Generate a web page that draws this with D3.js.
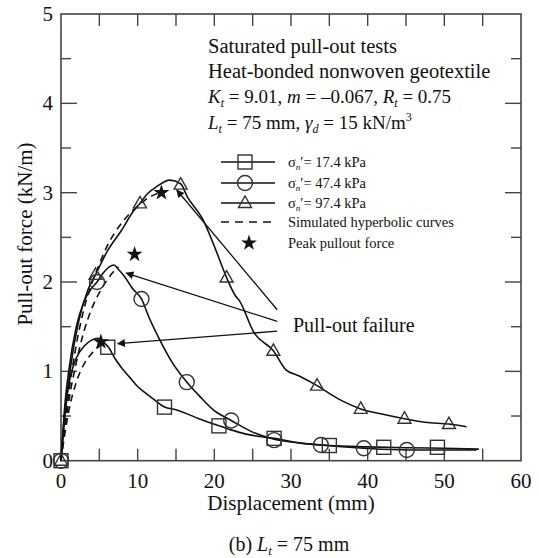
<!DOCTYPE html>
<html>
<head>
<meta charset="utf-8">
<style>
  body { margin: 0; padding: 0; background: #fff; overflow: hidden; }
  svg text { font-family: "Liberation Serif", "Times New Roman", serif; fill: #111; }
</style>
</head>
<body>
<div id="chart"></div>
<script src="https://cdn.jsdelivr.net/npm/d3@7"></script>
<script>
// ---- data (displacement mm, force kN/m) ----
var curve17 = [[0,0],[0.5,0.55],[1,0.85],[1.5,1.03],[2,1.15],[3,1.28],[4,1.35],[4.8,1.37],[5.5,1.33],[6.2,1.27],[7,1.15],
  [8,1.03],[9,0.93],[10,0.83],[11,0.76],[12.2,0.68],[13.5,0.6],[15,0.57],[16,0.54],[18,0.47],[20.6,0.39],[22,0.35],[24,0.3],
  [26,0.27],[27.8,0.25],[31,0.2],[35,0.17],[40,0.155],[45,0.145],[50,0.14],[54.5,0.13]];
var curve47 = [[0,0],[0.5,0.62],[1,1.0],[2,1.5],[3,1.78],[4,1.93],[4.7,2.0],[5.5,2.1],[6.3,2.17],[6.9,2.19],[7.5,2.14],
  [8.3,2.06],[9.3,1.93],[10.5,1.81],[11.5,1.6],[12.9,1.35],[14.5,1.1],[16.4,0.88],[18.1,0.72],[20,0.56],[22.2,0.45],
  [25,0.32],[27.8,0.24],[31,0.2],[33.9,0.175],[39.5,0.14],[45.1,0.12],[50,0.12],[54.2,0.12]];
var curve97 = [[0,0],[0.5,0.49],[1.2,1.02],[2.25,1.54],[3.5,1.91],[4.5,2.08],[6,2.34],[7.9,2.58],[9.5,2.8],[10.3,2.88],
  [11.3,2.99],[12.5,3.07],[14.2,3.14],[15.6,3.1],[16.5,2.95],[18.5,2.7],[20,2.4],[21.6,2.05],[22.8,1.84],[23.2,1.8],
  [25.2,1.43],[27.7,1.23],[29.3,1.02],[31,0.95],[33.4,0.84],[36,0.7],[39.1,0.58],[42,0.52],[44.8,0.47],[47.5,0.43],
  [50.6,0.41],[52.9,0.38]];

var marks17 = [[0,0],[6.1,1.27],[13.5,0.6],[20.6,0.39],[27.8,0.25],[35,0.17],[42.1,0.15],[49.1,0.15]];
var marks47 = [[0,0],[4.7,2.0],[10.5,1.81],[16.4,0.88],[22.2,0.45],[27.8,0.23],[33.9,0.175],[39.5,0.14],[45.1,0.12]];
var marks97 = [[0,0],[4.5,2.08],[10.3,2.88],[15.6,3.09],[21.6,2.05],[27.7,1.23],[33.4,0.84],[39.1,0.58],[44.8,0.47],[50.6,0.41]];

var sim17 = [[0,0],[0.5,0.3],[1,0.55],[2,0.88],[3,1.08],[4,1.2],[5,1.28],[5.5,1.31]];
var sim47 = [[0,0],[0.5,0.36],[1,0.66],[2,1.1],[3,1.45],[4,1.7],[5,1.88],[6,2.02],[7,2.13],[7.5,2.17]];
var sim97 = [[0,0],[0.5,0.4],[1,0.75],[2,1.3],[3,1.7],[4,1.98],[5,2.2],[6,2.4],[7,2.55],[8,2.67],[9,2.77],[10,2.85],
  [11,2.92],[12,2.97],[13,3.0]];

var peaks = [[5.2,1.33],[9.6,2.31],[13.1,3.0]];

// arrows: [fromX, fromY, toX, toY]
var arrows = [[28.2,1.69,15.1,3.03],[28.2,1.56,8.5,2.10],[28.2,1.45,7.4,1.31]];

var xTicks = [0,10,20,30,40,50,60];
var yTicks = [0,1,2,3,4,5];

var W = 539, H = 558;
var x = d3.scaleLinear().domain([0,60]).range([61,521]);
var y = d3.scaleLinear().domain([0,5]).range([460.7,14]);

var svg = d3.select('#chart').append('svg').attr('width',W).attr('height',H);

svg.append('defs').append('marker')
  .attr('id','arrow').attr('viewBox','0 0 10 10').attr('refX',9).attr('refY',5)
  .attr('markerWidth',12).attr('markerHeight',8).attr('markerUnits','userSpaceOnUse')
  .attr('orient','auto')
  .append('path').attr('d','M0,0 L10,5 L0,10 z').attr('fill','#111');

// frame
var frame = '#444';
svg.append('rect').attr('x',x(0)).attr('y',y(5)).attr('width',x(60)-x(0)).attr('height',y(0)-y(5))
  .attr('fill','none').attr('stroke',frame).attr('stroke-width',1.6);

// ticks (inward)
var xMinor = d3.range(5,60,5);
xMinor.forEach(function(v){
  svg.append('line').attr('x1',x(v)).attr('x2',x(v)).attr('y1',y(0)).attr('y2',y(0)-12).attr('stroke',frame).attr('stroke-width',1.4);
  svg.append('line').attr('x1',x(v)).attr('x2',x(v)).attr('y1',y(5)).attr('y2',y(5)+12).attr('stroke',frame).attr('stroke-width',1.4);
});
d3.range(0.5,5,0.5).forEach(function(v){
  var len = (v % 1 === 0) ? 16 : 10;
  svg.append('line').attr('x1',x(0)).attr('x2',x(0)+len).attr('y1',y(v)).attr('y2',y(v)).attr('stroke',frame).attr('stroke-width',1.4);
  svg.append('line').attr('x1',x(60)).attr('x2',x(60)-len).attr('y1',y(v)).attr('y2',y(v)).attr('stroke',frame).attr('stroke-width',1.4);
});

// tick labels
svg.selectAll('.xl').data(xTicks).enter().append('text')
  .attr('x',function(d){return x(d);}).attr('y',488).attr('text-anchor','middle')
  .attr('font-size',21).text(function(d){return d;});
svg.selectAll('.yl').data(yTicks).enter().append('text')
  .attr('x',53).attr('y',function(d){return y(d)+7;}).attr('text-anchor','end')
  .attr('font-size',21).text(function(d){return d;});

// axis titles
svg.append('text').attr('x',x(30)).attr('y',510).attr('text-anchor','middle').attr('font-size',21)
  .text('Displacement (mm)');
svg.append('text').attr('transform','translate(32,234) rotate(-90)').attr('text-anchor','middle')
  .attr('font-size',21).text('Pull-out force (kN/m)');

var cap = svg.append('text').attr('x',x(30)-2).attr('y',551).attr('text-anchor','middle').attr('font-size',20);
cap.append('tspan').text('(b) ');
cap.append('tspan').attr('font-style','italic').text('L');
cap.append('tspan').attr('font-style','italic').attr('font-size',13).attr('dy',4).text('t');
cap.append('tspan').attr('dy',-4).text(' = 75 mm');

// curves
var line = d3.line().x(function(d){return x(d[0]);}).y(function(d){return y(d[1]);}).curve(d3.curveMonotoneX);
[curve17, curve47, curve97].forEach(function(c){
  svg.append('path').attr('d',line(c)).attr('fill','none').attr('stroke','#111').attr('stroke-width',1.6);
});
[sim17, sim47, sim97].forEach(function(c){
  svg.append('path').attr('d',line(c)).attr('fill','none').attr('stroke','#111').attr('stroke-width',1.6)
    .attr('stroke-dasharray','7,5');
});

// markers
function square(g, cx, cy){ g.append('rect').attr('x',cx-7).attr('y',cy-7).attr('width',14).attr('height',14)
  .attr('fill','none').attr('stroke','#333').attr('stroke-width',1.4); }
function circle(g, cx, cy){ g.append('circle').attr('cx',cx).attr('cy',cy).attr('r',7.5)
  .attr('fill','none').attr('stroke','#333').attr('stroke-width',1.4); }
function tri(g, cx, cy){ g.append('path').attr('d','M'+cx+','+(cy-7)+' L'+(cx+6.5)+','+(cy+4.5)+' L'+(cx-6.5)+','+(cy+4.5)+' Z')
  .attr('fill','none').attr('stroke','#333').attr('stroke-width',1.4); }
marks17.forEach(function(d){ square(svg, x(d[0]), y(d[1])); });
marks47.forEach(function(d){ circle(svg, x(d[0]), y(d[1])); });
marks97.forEach(function(d){ tri(svg, x(d[0]), y(d[1])); });

var star = d3.symbol().type(d3.symbolStar).size(80);
peaks.forEach(function(d){
  svg.append('path').attr('d',star()).attr('transform','translate('+x(d[0])+','+y(d[1])+')').attr('fill','#111');
});

// arrows + label
arrows.forEach(function(a){
  svg.append('line').attr('x1',x(a[0])).attr('y1',y(a[1])).attr('x2',x(a[2])).attr('y2',y(a[3]))
    .attr('stroke','#111').attr('stroke-width',1.3).attr('marker-end','url(#arrow)');
});
svg.append('text').attr('x',293).attr('y',332).attr('font-size',20).text('Pull-out failure');

// text block
var tx = 208;
svg.append('text').attr('x',tx).attr('y',53).attr('font-size',20.5).text('Saturated pull-out tests');
svg.append('text').attr('x',tx).attr('y',78).attr('font-size',20.5).text('Heat-bonded nonwoven geotextile');
var t3 = svg.append('text').attr('x',tx).attr('y',103).attr('font-size',19);
t3.append('tspan').attr('font-style','italic').text('K');
t3.append('tspan').attr('font-style','italic').attr('font-size',12).attr('dy',4).text('t');
t3.append('tspan').attr('dy',-4).text(' = 9.01, ');
t3.append('tspan').attr('font-style','italic').text('m');
t3.append('tspan').text(' = \u20130.067, ');
t3.append('tspan').attr('font-style','italic').text('R');
t3.append('tspan').attr('font-style','italic').attr('font-size',12).attr('dy',4).text('t');
t3.append('tspan').attr('dy',-4).text(' = 0.75');
var t4 = svg.append('text').attr('x',tx).attr('y',129).attr('font-size',19);
t4.append('tspan').attr('font-style','italic').text('L');
t4.append('tspan').attr('font-style','italic').attr('font-size',12).attr('dy',4).text('t');
t4.append('tspan').attr('dy',-4).text(' = 75 mm, ');
t4.append('tspan').attr('font-style','italic').text('\u03b3');
t4.append('tspan').attr('font-style','italic').attr('font-size',12).attr('dy',4).text('d');
t4.append('tspan').attr('dy',-4).text(' = 15 kN/m');
t4.append('tspan').attr('font-size',12).attr('dy',-8).text('3');

// legend
var legRows = ['17.4','47.4','97.4'];
var legY = [162,183,203];
legRows.forEach(function(v,i){
  svg.append('line').attr('x1',221).attr('x2',275).attr('y1',legY[i]).attr('y2',legY[i]).attr('stroke','#111').attr('stroke-width',1.6);
  if(i===0) square(svg,245,legY[i]); else if(i===1) circle(svg,245,legY[i]); else tri(svg,245,legY[i]);
  var t = svg.append('text').attr('x',288).attr('y',legY[i]+5).attr('font-size',14.5);
  t.append('tspan').text('\u03c3');
  t.append('tspan').attr('font-style','italic').attr('font-size',9).attr('dy',3).text('n');
  t.append('tspan').attr('dy',-3).text('\u2032= ' + v + ' kPa');
});
svg.append('line').attr('x1',221).attr('x2',275).attr('y1',222).attr('y2',222).attr('stroke','#111')
  .attr('stroke-width',1.6).attr('stroke-dasharray','8,6');
svg.append('text').attr('x',288).attr('y',227).attr('font-size',14.5).text('Simulated hyperbolic curves');
svg.append('path').attr('d',star()).attr('transform','translate(249,243)').attr('fill','#111');
svg.append('text').attr('x',288).attr('y',248).attr('font-size',14.5).text('Peak pullout force');
</script>
</body>
</html>
